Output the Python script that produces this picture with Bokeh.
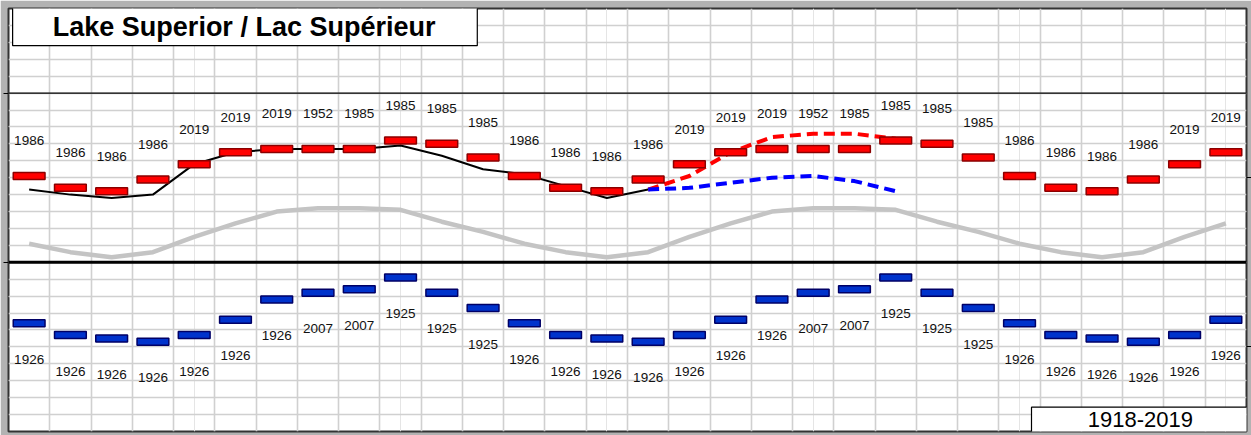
from bokeh.plotting import figure
from bokeh.models import FixedTicker, Span, Grid, LinearAxis
from bokeh.core.properties import value
from bokeh.embed import file_html
from bokeh.resources import INLINE

# ---- data (metres) ----
months = list(range(1, 31))  # Jan .. Dec, Jan .. Dec, Jan .. Jun

record_high = [183.71, 183.64, 183.62, 183.69, 183.78, 183.85, 183.87, 183.87, 183.87, 183.92, 183.90, 183.82,
               183.71, 183.64, 183.62, 183.69, 183.78, 183.85, 183.87, 183.87, 183.87, 183.92, 183.90, 183.82,
               183.71, 183.64, 183.62, 183.69, 183.78, 183.85]
record_high_year = ["1986", "1986", "1986", "1986", "2019", "2019", "2019", "1952", "1985", "1985", "1985", "1985",
                    "1986", "1986", "1986", "1986", "2019", "2019", "2019", "1952", "1985", "1985", "1985", "1985",
                    "1986", "1986", "1986", "1986", "2019", "2019"]

record_low = [182.84, 182.77, 182.75, 182.73, 182.77, 182.86, 182.98, 183.02, 183.04, 183.11, 183.02, 182.93,
              182.84, 182.77, 182.75, 182.73, 182.77, 182.86, 182.98, 183.02, 183.04, 183.11, 183.02, 182.93,
              182.84, 182.77, 182.75, 182.73, 182.77, 182.86]
record_low_year = ["1926", "1926", "1926", "1926", "1926", "1926", "1926", "2007", "2007", "1925", "1925", "1925",
                   "1926", "1926", "1926", "1926", "1926", "1926", "1926", "2007", "2007", "1925", "1925", "1925",
                   "1926", "1926", "1926", "1926", "1926", "1926"]

average = [183.31, 183.26, 183.23, 183.26, 183.35, 183.43, 183.50, 183.52, 183.52, 183.51, 183.44, 183.38,
           183.31, 183.26, 183.23, 183.26, 183.35, 183.43, 183.50, 183.52, 183.52, 183.51, 183.44, 183.38,
           183.31, 183.26, 183.23, 183.26, 183.35, 183.43]

recorded_months = list(range(1, 17))
recorded = [183.63, 183.60, 183.58, 183.60, 183.78, 183.85, 183.87, 183.87, 183.87, 183.89, 183.83, 183.75,
            183.72, 183.65, 183.58, 183.63]

forecast_months = list(range(16, 23))
forecast_high = [183.63, 183.71, 183.85, 183.94, 183.96, 183.96, 183.93]
forecast_low = [183.63, 183.64, 183.67, 183.70, 183.71, 183.68, 183.62]

left_ticks = [183.2, 184.2]
right_ticks = [182.7, 183.7]

title_text = "Lake Superior / Lac Supérieur"
period_text = "1918-2019"

# ---- figure ----
Y0, Y1 = 182.2, 184.7
p = figure(width=1251, height=435, x_range=(0.5, 30.5), y_range=(Y0, Y1),
           output_backend="svg", toolbar_location=None,
           min_border_left=8, min_border_top=8, min_border_right=4, min_border_bottom=4,
           x_axis_location=None, y_axis_location=None)
p.background_fill_color = "white"
p.border_fill_color = "#B2B2B2"
p.outline_line_color = "#333333"
p.outline_line_width = 2

for side, ticks in (("left", left_ticks), ("right", right_ticks)):
    ax = LinearAxis(ticker=FixedTicker(ticks=ticks), major_tick_out=5, major_tick_in=0,
                    minor_tick_out=0, minor_tick_in=0, major_label_text_font_size="0px",
                    major_label_text_color=None, major_label_standoff=0,
                    axis_line_color=None, major_tick_line_color="black",
                    major_tick_line_width=1.2)
    p.add_layout(ax, side)

grid_color = "#D0D0D0"
p.add_layout(Grid(dimension=0, ticker=FixedTicker(ticks=[i + 0.5 for i in range(0, 31)]),
                  grid_line_color=grid_color, grid_line_width=1.6))
p.add_layout(Grid(dimension=1, ticker=FixedTicker(ticks=[round(Y0 + 0.1 * k, 2) for k in range(26)]),
                  grid_line_color=grid_color, grid_line_width=1.6))

p.add_layout(Span(location=184.2, dimension="width", line_color="black", line_width=1.2))
p.add_layout(Span(location=183.2, dimension="width", line_color="black", line_width=3))

# lines (behind bars)
p.line(months, average, line_color="#C4C4C4", line_width=4.5)
p.line(recorded_months, recorded, line_color="black", line_width=2)
p.line(forecast_months, forecast_high, line_color="#FF0000", line_width=4, line_dash="11 6")
p.line(forecast_months, forecast_low, line_color="#0000FF", line_width=4, line_dash="11 6")

# bars
p.rect(x=months, y=record_high, width=0.77, height=7, height_units="screen",
       fill_color="#FF0000", line_color="#8B0000", line_width=1.5)
p.rect(x=months, y=record_low, width=0.77, height=7, height_units="screen",
       fill_color="#0033CC", line_color="#000066", line_width=1.5)

font = value("Liberation Sans")
p.text(x=months, y=[v + 0.207 for v in record_high], text=record_high_year,
       text_font=font, text_font_size="13.5px", text_align="center", text_baseline="middle",
       text_color="#111111")
p.text(x=months, y=[v - 0.213 for v in record_low], text=record_low_year,
       text_font=font, text_font_size="13.5px", text_align="center", text_baseline="middle",
       text_color="#111111")

# title box
p.quad(left=[0.6], right=[11.86], bottom=[184.48], top=[184.72],
       fill_color="white", line_color="black", line_width=1.2)
p.text(x=[6.21], y=[184.592], text=[title_text], text_font=font, text_font_style="bold",
       text_font_size="27px", text_align="center", text_baseline="middle", text_color="black")

# period box
p.quad(left=[25.29], right=[30.6], bottom=[182.18], top=[182.344],
       fill_color="white", line_color="black", line_width=1.2)
p.text(x=[27.93], y=[182.272], text=[period_text], text_font=font,
       text_font_size="22px", text_align="center", text_baseline="middle", text_color="black")

open("out.html", "w").write(file_html(p, INLINE))
